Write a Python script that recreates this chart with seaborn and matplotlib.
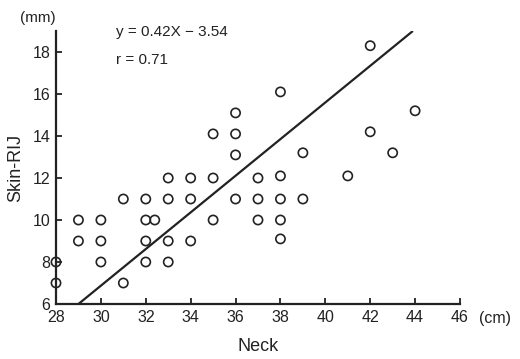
import numpy as np
import pandas as pd
import matplotlib
matplotlib.use("Agg")
import matplotlib.pyplot as plt
import seaborn as sns

# Données
neck = [28, 28, 29, 29, 30, 30, 30, 31, 31, 32, 32, 32.4, 32, 32,
        33, 33, 33, 33, 34, 34, 34, 35, 35, 35,
        36, 36, 36, 36, 37, 37, 37, 38, 38, 38, 38, 38,
        39, 39, 41, 42, 42, 43, 44]
skin = [8, 7, 10, 9, 10, 9, 8, 11, 7, 11, 10, 10, 9, 8,
        12, 11, 9, 8, 12, 11, 9, 14.1, 12, 10,
        15.1, 14.1, 13.1, 11, 12, 11, 10, 16.1, 12.1, 11, 10, 9.1,
        13.2, 11, 12.1, 14.2, 18.3, 13.2, 15.2]

# Droite de régression telle que tracée
line_x = [29, 43.9]
line_y = [6, 19]

x_ticks = [28, 30, 32, 34, 36, 38, 40, 42, 44, 46]
y_ticks = [6, 8, 10, 12, 14, 16, 18]

sns.set_style("ticks")
plt.rcParams['font.family'] = ['Liberation Sans', 'DejaVu Sans']

df = pd.DataFrame({"Neck": neck, "Skin-RIJ": skin})

fig = plt.figure(figsize=(5.2, 3.59), dpi=100)
ax = fig.add_axes([56 / 520, 1 - 304 / 359, 404 / 520, 273 / 359])

ink = "#222222"
sns.scatterplot(data=df, x="Neck", y="Skin-RIJ", ax=ax, marker="o", s=44,
                facecolor="none", edgecolor=ink, linewidth=1.2, clip_on=False, zorder=3)
ax.plot(line_x, line_y, color=ink, lw=1.6, solid_capstyle="butt")

ax.set_xlim(28, 46)
ax.set_ylim(6, 19)
ax.set_xticks(x_ticks)
ax.set_yticks(y_ticks)
ax.tick_params(direction="in", length=4, width=1.3, colors=ink, labelsize=11.5, pad=4)
for s in ["top", "right"]:
    ax.spines[s].set_visible(False)
for s in ["left", "bottom"]:
    ax.spines[s].set_linewidth(1.6)
    ax.spines[s].set_color(ink)

ax.set_xlabel("Neck", fontsize=13, color=ink, labelpad=10)
ax.set_ylabel("Skin-RIJ", fontsize=13, color=ink, labelpad=6)

fig.text(479 / 520, 1 - 319 / 359, "(cm)", fontsize=11.5, color=ink, va="center", ha="left")
fig.text(20 / 520, 1 - 18 / 359, "(mm)", fontsize=11, color=ink, va="center", ha="left")
fig.text(116 / 520, 1 - 32 / 359, "y = 0.42X \u2212 3.54", fontsize=11, color=ink, va="center")
fig.text(116 / 520, 1 - 60 / 359, "r = 0.71", fontsize=11, color=ink, va="center")

fig.savefig("out.png", dpi=100)
